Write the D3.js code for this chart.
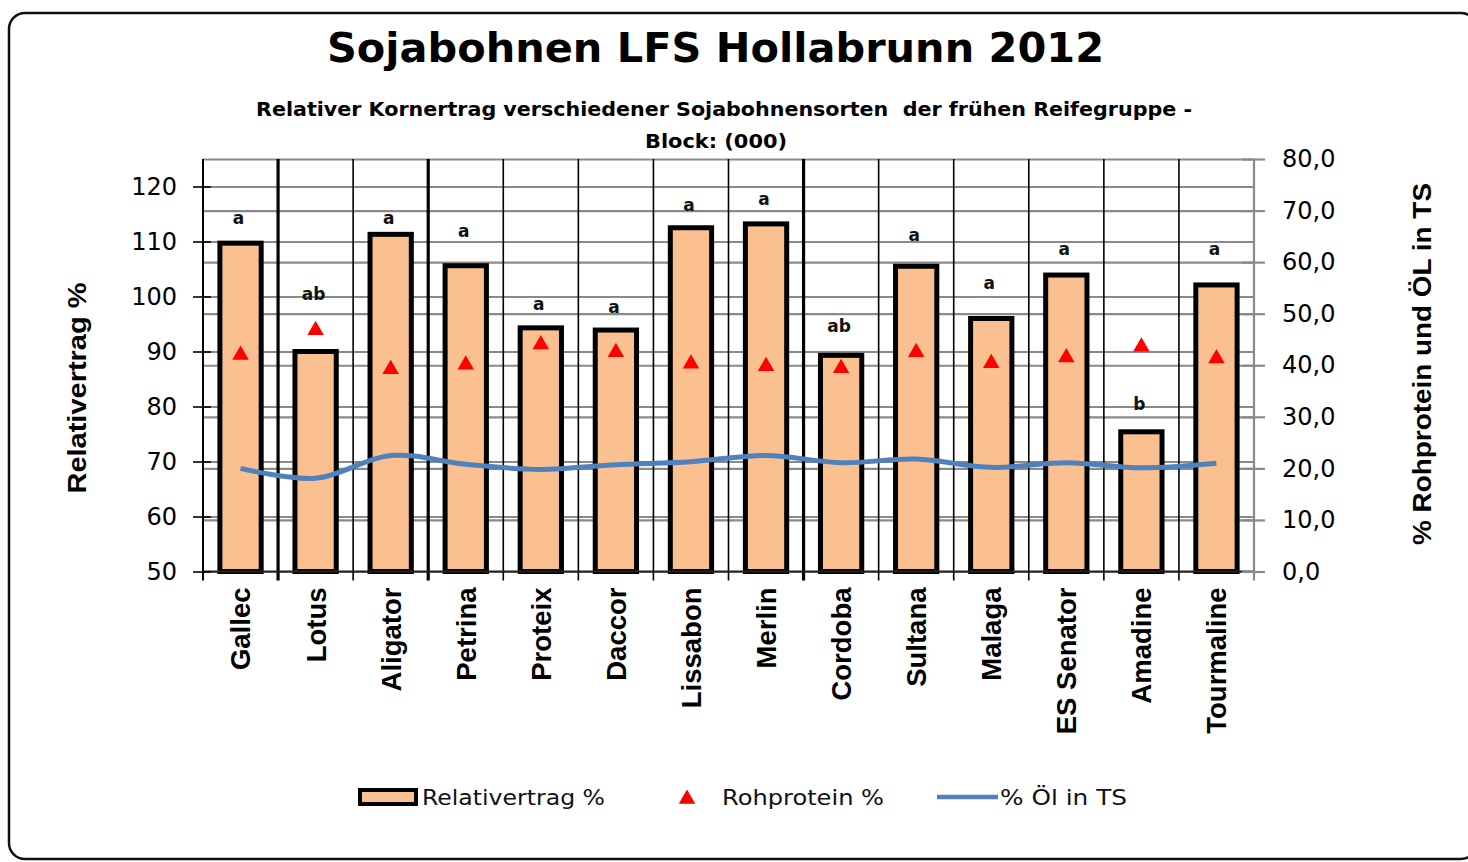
<!DOCTYPE html>
<html>
<head>
<meta charset="utf-8">
<script src="https://cdn.jsdelivr.net/npm/d3@7"></script>
<style>
  html, body { margin: 0; padding: 0; background: #fff; }
  svg { display: block; }
</style>
</head>
<body>
<script>
// ---------- data ----------
const categories = ["Gallec","Lotus","Aligator","Petrina","Proteix","Daccor","Lissabon","Merlin","Cordoba","Sultana","Malaga","ES Senator","Amadine","Tourmaline"];
const relativertrag = [109.7, 90.0, 111.3, 105.6, 94.3, 93.9, 112.5, 113.2, 89.3, 105.5, 96.0, 103.9, 75.4, 102.1];
const rohprotein = [42.2, 47.0, 39.4, 40.3, 44.2, 42.7, 40.5, 40.0, 39.6, 42.7, 40.6, 41.7, 43.8, 41.5];
const oel = [20.0, 18.1, 22.5, 20.8, 19.8, 20.7, 21.3, 22.5, 21.1, 21.8, 20.2, 21.1, 20.1, 21.0];
const sigLetters = ["a","ab","a","a","a","a","a","a","ab","a","a","a","b","a"];
const sigLetterLevel = [114.1, 100.3, 114.1, 111.8, 98.5, 97.9, 116.6, 117.7, 94.5, 111.1, 102.4, 108.5, 80.3, 108.5];
const groupEnds = ["Gallec","Aligator","Merlin"];
const leftTicks = [50, 60, 70, 80, 90, 100, 110, 120];
const rightTicks = [0, 10, 20, 30, 40, 50, 60, 70, 80];
const leftDomain = [50, 125];
const rightDomain = [0, 80];
const legendLabels = ["Relativertrag %", "Rohprotein %", "% Öl in TS"];
const titleText = "Sojabohnen LFS Hollabrunn 2012";
const subtitle1 = "Relativer Kornertrag verschiedener Sojabohnensorten  der frühen Reifegruppe -";
const subtitle2 = "Block: (000)";
const leftTitle = "Relativertrag %";
const rightTitle = "% Rohprotein und ÖL in TS";

// ---------- layout ----------
const W = 1468, H = 862;
const plot = { left: 203, right: 1254, top: 159, bottom: 571.5 };
const barFill = "#FAC090", oilColor = "#4F81BD", protColor = "#FF0000";
const gridColor = "#8a8a8a";
const numFont = "'DejaVu Sans', Verdana, sans-serif";
const arialFont = "'Liberation Sans', Arial, sans-serif";

const svg = d3.select("body").append("svg").attr("width", W).attr("height", H);

// frame
svg.append("rect")
  .attr("x", 9).attr("y", 13).attr("width", 1468).attr("height", 846)
  .attr("rx", 16).attr("ry", 16)
  .attr("fill", "#fff").attr("stroke", "#111").attr("stroke-width", 2.5);

const x = d3.scaleBand().domain(categories).range([plot.left, plot.right]).padding(0);
const yL = d3.scaleLinear().domain(leftDomain).range([plot.bottom, plot.top]);
const yR = d3.scaleLinear().domain(rightDomain).range([plot.bottom, plot.top]);
const bw = x.bandwidth();
const pw = plot.right - plot.left;

// gridlines (right-axis ticks)
const gR = svg.append("g").attr("transform", `translate(${plot.right},0)`)
  .call(d3.axisRight(yR).tickValues(rightTicks).tickSize(-pw).tickFormat(""));
gR.select(".domain").remove();
gR.selectAll("line").attr("stroke", gridColor).attr("stroke-width", 2.2);

// gridlines (left-axis ticks)
const gL = svg.append("g").attr("transform", `translate(${plot.left},0)`)
  .call(d3.axisLeft(yL).tickValues(leftTicks).tickSize(-pw).tickFormat(""));
gL.select(".domain").remove();
gL.selectAll("line").attr("stroke", gridColor).attr("stroke-width", 2.2);

// vertical category separators
const seps = categories.slice(0, -1).map((c, i) => ({ name: c, next: categories[i + 1] }));
svg.append("g").selectAll("line").data(seps).join("line")
  .attr("x1", d => x(d.next)).attr("x2", d => x(d.next))
  .attr("y1", plot.top).attr("y2", plot.bottom + 9)
  .attr("stroke", "#000")
  .attr("stroke-width", d => groupEnds.includes(d.name) ? 3.2 : 1.6);

// bars
const barW = bw * 0.55;
svg.append("g").selectAll("rect").data(categories).join("rect")
  .attr("x", c => x(c) + (bw - barW) / 2)
  .attr("width", barW)
  .attr("y", (c, i) => yL(relativertrag[i]))
  .attr("height", (c, i) => yL(leftDomain[0]) - yL(relativertrag[i]))
  .attr("fill", barFill).attr("stroke", "#000").attr("stroke-width", 5);

// x axis line
svg.append("line")
  .attr("x1", plot.left).attr("x2", plot.right)
  .attr("y1", plot.bottom).attr("y2", plot.bottom)
  .attr("stroke", "#222").attr("stroke-width", 2);

// left axis
const axL = svg.append("g").attr("transform", `translate(${plot.left},0)`)
  .call(d3.axisLeft(yL).tickValues(leftTicks).tickSizeInner(10).tickSizeOuter(0).tickPadding(16));
axL.select(".domain").attr("d", `M0,${plot.top}V${plot.bottom + 9}`).attr("stroke", "#000").attr("stroke-width", 2);
axL.selectAll(".tick line").attr("x1", 8).attr("x2", -10).attr("stroke", "#000").attr("stroke-width", 1.6);
axL.selectAll(".tick text").attr("font-family", numFont).attr("font-size", 24).attr("fill", "#000");

// right axis
const fmtR = d => d3.format(".1f")(d).replace(".", ",");
const axR = svg.append("g").attr("transform", `translate(${plot.right},0)`)
  .call(d3.axisRight(yR).tickValues(rightTicks).tickSizeInner(11).tickSizeOuter(0).tickPadding(17).tickFormat(fmtR));
axR.select(".domain").attr("d", `M0,${plot.top}V${plot.bottom + 9}`).attr("stroke", gridColor).attr("stroke-width", 2.2);
axR.selectAll(".tick line").attr("x1", -12).attr("x2", 11).attr("stroke", gridColor).attr("stroke-width", 2.2);
axR.selectAll(".tick text").attr("font-family", numFont).attr("font-size", 24).attr("fill", "#000");

// oil line
const line = d3.line()
  .x((d, i) => x(categories[i]) + bw / 2)
  .y(d => yR(d))
  .curve(d3.curveCatmullRom.alpha(0.5));
svg.append("path").datum(oel)
  .attr("d", line).attr("fill", "none")
  .attr("stroke", oilColor).attr("stroke-width", 5).attr("stroke-linejoin", "round");

// protein triangles
const tri = d3.symbol().type(d3.symbolTriangle).size(118);
svg.append("g").selectAll("path").data(rohprotein).join("path")
  .attr("d", tri)
  .attr("transform", (d, i) => `translate(${x(categories[i]) + bw / 2},${yR(d) + 1})`)
  .attr("fill", protColor);

// significance letters
svg.append("g").selectAll("text").data(sigLetters).join("text")
  .attr("x", (d, i) => x(categories[i]) + bw / 2 - 2)
  .attr("y", (d, i) => yL(sigLetterLevel[i]))
  .attr("dy", "0.32em")
  .attr("text-anchor", "middle")
  .attr("font-family", numFont).attr("font-weight", "bold").attr("font-size", 17)
  .attr("fill", "#111")
  .text(d => d);

// category labels
svg.append("g").selectAll("text").data(categories).join("text")
  .attr("transform", c => `translate(${x(c) + bw / 2},${plot.bottom + 16}) rotate(-90)`)
  .attr("text-anchor", "end")
  .attr("dy", "0.36em")
  .attr("font-family", arialFont).attr("font-weight", "bold").attr("font-size", 27.5)
  .attr("fill", "#000")
  .text(c => c);

// axis titles
svg.append("text")
  .attr("transform", `translate(77,388) rotate(-90)`)
  .attr("text-anchor", "middle").attr("dy", "0.36em")
  .attr("font-family", arialFont).attr("font-weight", "bold").attr("font-size", 25)
  .attr("textLength", 211).attr("lengthAdjust", "spacingAndGlyphs")
  .text(leftTitle);
svg.append("text")
  .attr("transform", `translate(1422,364) rotate(-90)`)
  .attr("text-anchor", "middle").attr("dy", "0.36em")
  .attr("font-family", arialFont).attr("font-weight", "bold").attr("font-size", 25)
  .attr("textLength", 362).attr("lengthAdjust", "spacingAndGlyphs")
  .text(rightTitle);

// titles
svg.append("text")
  .attr("x", 327).attr("y", 62)
  .attr("font-family", numFont).attr("font-weight", "bold").attr("font-size", 40)
  .attr("textLength", 777).attr("lengthAdjust", "spacingAndGlyphs")
  .text(titleText);
svg.append("text")
  .attr("x", 256).attr("y", 116)
  .style("white-space", "pre")
  .attr("font-family", numFont).attr("font-weight", "bold").attr("font-size", 19)
  .attr("textLength", 936).attr("lengthAdjust", "spacingAndGlyphs")
  .text(subtitle1);
svg.append("text")
  .attr("x", 645).attr("y", 148)
  .attr("font-family", numFont).attr("font-weight", "bold").attr("font-size", 19)
  .attr("textLength", 142).attr("lengthAdjust", "spacingAndGlyphs")
  .text(subtitle2);

// legend
const lg = svg.append("g");
lg.append("rect").attr("x", 360).attr("y", 790).attr("width", 56).attr("height", 14)
  .attr("fill", barFill).attr("stroke", "#000").attr("stroke-width", 4);
lg.append("path").attr("d", tri).attr("transform", "translate(687,799)").attr("fill", protColor);
lg.append("line").attr("x1", 937).attr("x2", 998).attr("y1", 797).attr("y2", 797)
  .attr("stroke", oilColor).attr("stroke-width", 4.5);
const legText = [
  { x: 422, len: 183 },
  { x: 722, len: 162 },
  { x: 1000, len: 127 }
];
lg.selectAll("text.leg").data(legendLabels).join("text")
  .attr("class", "leg")
  .attr("x", (d, i) => legText[i].x).attr("y", 805)
  .attr("font-family", numFont).attr("font-size", 21).attr("fill", "#111")
  .attr("textLength", (d, i) => legText[i].len).attr("lengthAdjust", "spacingAndGlyphs")
  .text(d => d);
</script>
</body>
</html>
